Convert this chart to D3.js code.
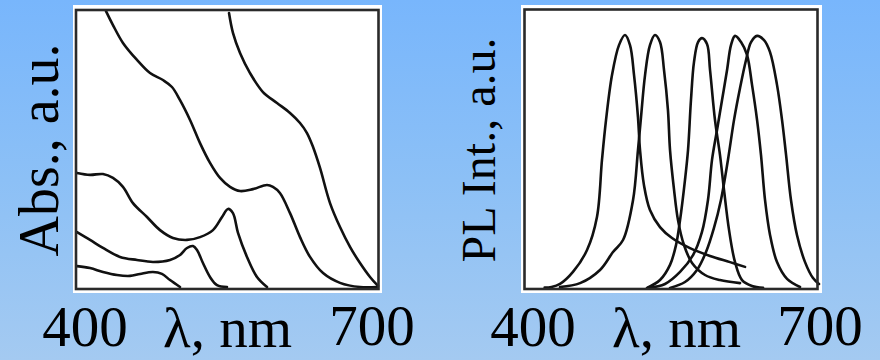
<!DOCTYPE html>
<html lang="en">
<head>
<meta charset="UTF-8">
<script src="https://cdn.jsdelivr.net/npm/d3@7"></script>
<style>
    html, body {
        margin: 0;
        padding: 0;
    }
    body {
        width: 880px;
        height: 360px;
        overflow: hidden;
        background: linear-gradient(to bottom, #78b6fc 0%, #8cc0f6 50%, #a4caf1 100%);
    }
    svg text {
        font-family: "Liberation Serif", "Times New Roman", serif;
        fill: #000;
    }
    .curve {
        fill: none;
        stroke: #111;
        stroke-width: 2.6;
        stroke-linejoin: round;
        stroke-linecap: round;
    }
</style>
</head>
<body>
<svg id="chart" width="880" height="360"></svg>

<script>
    // wavelength limits and tick labels, shared by both panels
    var lambdaDomain = [400, 700];
    var tickValues = [400, 700];
    var xLabel = "\u03bb, nm";

    // absorption spectra, [lambda nm, abs a.u. 0..100]
    var absA = [[551.5, 98.9], [555.4, 91.8], [562.4, 84.6], [572.3, 77.4], [585.1, 70.6], [599, 66.7],
        [611.9, 63.1], [621.8, 59.5], [628.7, 55.9], [634.7, 50.9], [641.6, 43.4], [651.5, 30.8],
        [661.4, 22.2], [671.3, 15.1], [681.2, 9.3], [691.1, 4.3], [699, 1.1]];
    var absB = [[429.7, 99.6], [436.6, 94.6], [446.5, 88.2], [460.4, 82.1], [473.3, 77.4], [486.1, 74.9],
        [495, 72.4], [503, 67.7], [512.9, 60.6], [522.8, 52.3], [532.7, 45.2], [542.6, 39.8],
        [552.5, 36.6], [562.4, 35.1], [575.2, 35.8], [589.1, 37.3], [595, 36.6], [601.9, 34.4],
        [611.9, 27.2], [621.8, 18.6], [631.7, 11.5], [644.6, 5.7], [661.4, 2.2], [681.2, 0.7], [698, 0.7]];
    var absC = [[401, 41.6], [413.9, 40.9], [426.7, 41.2], [436.6, 39.8], [446.5, 36.6], [456.4, 30.8],
        [470.3, 25.8], [483.2, 21.1], [496, 18.3], [509.9, 17.6], [522.8, 18.6], [535.6, 21.1],
        [544.6, 25.8], [550.5, 28.7], [555.4, 27.2], [560.4, 20.1], [569.3, 11.5], [579.2, 4.3], [589.1, 0.7]];
    var absD = [[401, 20.4], [413.9, 17.6], [426.7, 14.7], [443.6, 11.5], [460.4, 10.4], [476.2, 9.7],
        [493.1, 10.4], [503, 12.2], [509.9, 14.7], [515.8, 15.4], [519.8, 14], [525.7, 9.3],
        [532.7, 4.3], [539.6, 1.4], [549.5, 0.7]];
    var absE = [[401, 8.2], [413.9, 7.5], [426.7, 6.1], [440.6, 5], [453.5, 4.7], [463.4, 5.4],
        [476.2, 6.1], [485.1, 5.4], [493.1, 3.2], [503, 0.7]];

    // photoluminescence spectra, [lambda nm, PL a.u. 0..100]
    var pl1 = [[421, 0.5], [428, 0.7], [436.6, 1.8], [449.8, 6.1], [464.1, 13.9], [474.2, 25.7], [479.3, 46.1],
        [483.4, 60.3], [489.5, 76.4], [496.6, 87.1], [502.7, 90.7], [507.8, 87.1], [511.9, 76.4],
        [515.9, 61.4], [518, 49.6], [522, 37.1], [528.1, 28.2], [538.3, 22.1], [550.5, 18.2],
        [568.8, 14.6], [589.2, 11.8], [609.5, 9.6], [624.8, 7.9]];
    var pl2 = [[436.6, 0.7], [457, 2.1], [477.3, 6.8], [490.5, 13.2], [500.7, 17.5], [510.9, 31.8],
        [515.9, 49.6], [519, 61.4], [523.1, 76.4], [528.1, 87.1], [533.2, 90.7], [538.3, 88.2],
        [542.4, 78.2], [546.4, 63.9], [548.5, 49.6], [552.6, 35.4], [556.6, 24.6], [562.7, 15.7],
        [570.9, 9.3], [584.1, 5], [599.3, 3.2], [619.7, 2.1]];
    var pl3 = [[525.1, 0.4], [538.3, 3.2], [548.5, 8.6], [554.6, 15.7], [558.7, 24.6], [563.7, 38.9],
        [566.8, 49.6], [569.8, 67.5], [572.9, 81.1], [577, 88.2], [581, 89.6], [586.1, 87.5],
        [589.2, 78.2], [594.2, 60.4], [599.3, 47.9], [603.4, 35.4], [608.5, 21.1], [614.6, 9.6],
        [621.7, 3.2], [631.9, 1.1], [643.1, 0.4]];
    var pl4 = [[526.1, 0.4], [543.4, 1.8], [558.7, 6.1], [571.9, 12.1], [581, 20.4], [587.1, 31.8],
        [591.2, 46.1], [596.3, 56.8], [601.4, 67.5], [606.5, 78.2], [610.5, 87.1], [614.6, 90.4],
        [620.7, 88.2], [626.8, 83.6], [631.9, 72.9], [637, 60.4], [641, 47.9], [645.1, 31.8],
        [650.2, 19.3], [657.3, 9.6], [667.5, 3.6], [680.7, 0.7]];
    var pl5 = [[548.5, 0.4], [563.7, 2.5], [575.9, 6.8], [585.1, 13.2], [593.2, 21.8], [600.3, 31.8],
        [607.4, 46.1], [613.6, 60.4], [619.7, 71.8], [625.8, 81.8], [630.9, 88.2], [637, 90.4],
        [644.1, 88.9], [650.2, 84.6], [657.3, 72.9], [662.4, 60.4], [666.5, 47.9], [671.5, 31.8],
        [677.6, 19.3], [685.8, 9.6], [693.9, 3.9], [700, 1.8]];

    var absSeries = [absA, absB, absC, absD, absE];
    var plSeries = [pl1, pl2, pl3, pl4, pl5];

    var svg = d3.select("#chart");

    // panel layout (pixels)
    var panels = [
        {
            series: absSeries, yLabel: "Abs., a.u.", yLabelSize: 56,
            paper: [73, 5, 309, 288], frame: [76, 10, 302.5, 279],
            xRange: [76, 379], yRange: [289, 10],
            yLabelPos: [58, 150], tickDx: [9, -7], tickY: [346, 345], xLabelPos: [163, 347]
        },
        {
            series: plSeries, yLabel: "PL Int., a.u.", yLabelSize: 48,
            paper: [521, 5, 301, 288], frame: [524.5, 9.5, 293, 279.5],
            xRange: [524, 819], yRange: [289, 9],
            yLabelPos: [495, 150], tickDx: [9, 1], tickY: [346, 345], xLabelPos: [612, 347]
        }
    ];

    panels.forEach(function(p) {
        var g = svg.append("g");

        // white paper behind the plot
        g.append("rect")
            .attr("x", p.paper[0]).attr("y", p.paper[1])
            .attr("width", p.paper[2]).attr("height", p.paper[3])
            .attr("fill", "#fff");

        var x = d3.scaleLinear().domain(lambdaDomain).range(p.xRange);
        var y = d3.scaleLinear().domain([0, 100]).range(p.yRange);

        var line = d3.line()
            .x(function(d) { return x(d[0]); })
            .y(function(d) { return y(d[1]); })
            .curve(d3.curveCatmullRom.alpha(0.5));

        g.selectAll("path.curve")
            .data(p.series)
            .enter()
            .append("path")
            .attr("class", "curve")
            .attr("d", line);

        // frame
        g.append("rect")
            .attr("x", p.frame[0]).attr("y", p.frame[1])
            .attr("width", p.frame[2]).attr("height", p.frame[3])
            .attr("fill", "none")
            .attr("stroke", "#2a2a2a")
            .attr("stroke-width", 2.6);

        // tick labels 400 / 700
        g.selectAll("text.tick")
            .data(tickValues)
            .enter()
            .append("text")
            .attr("class", "tick")
            .attr("x", function(d, i) { return x(d) + p.tickDx[i]; })
            .attr("y", function(d, i) { return p.tickY[i]; })
            .attr("text-anchor", "middle")
            .style("font-size", "57px")
            .text(function(d) { return d; });

        g.append("text")
            .attr("x", p.xLabelPos[0])
            .attr("y", p.xLabelPos[1])
            .style("font-size", "57px")
            .text(xLabel);

        g.append("text")
            .attr("transform", "translate(" + p.yLabelPos[0] + "," + p.yLabelPos[1] + ") rotate(-90)")
            .attr("text-anchor", "middle")
            .style("font-size", p.yLabelSize + "px")
            .text(p.yLabel);
    });
</script>
</body>
</html>
